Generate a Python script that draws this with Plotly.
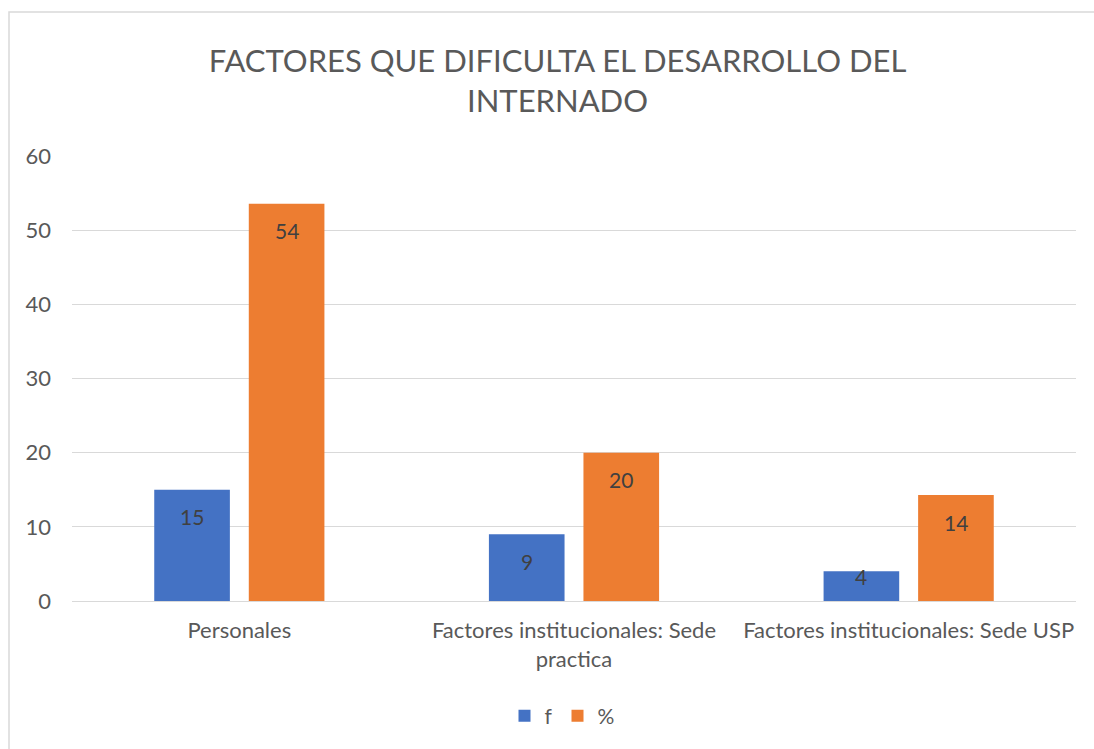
import plotly.graph_objects as go

categories = ["Personales", "Factores institucionales: Sede<br>practica", "Factores institucionales: Sede USP"]
f_values = [15, 9, 4]
pct_values = [53.57, 20, 14.29]
series_names = ["f", "%"]
colors = ["#4472C4", "#ED7D31"]
title_text = "FACTORES QUE DIFICULTA EL DESARROLLO DEL<br>INTERNADO"

FONT = "Lato, Open Sans, sans-serif"
W, H = 1094, 749
ML, MR, MT, MB = 72, 18, 156, 148
YMAX = 60
BARGAP, GROUPGAP = 0.435, 0.2

fig = go.Figure()
for name, vals, col in zip(series_names, [f_values, pct_values], colors):
    fig.add_trace(go.Bar(
        x=categories, y=vals, name=name, marker_color=col,
        marker_line_width=0, hoverinfo="x+y+name",
    ))

# data labels ("inside end" style), placed at each bar's value
plot_w = W - ML - MR
plot_h = H - MT - MB
slot = plot_w / len(categories) * (1 - BARGAP) / 2
px_per_unit = plot_h / YMAX
annotations = []
for i, vals in enumerate([f_values, pct_values]):
    xs = (i - 0.5) * slot
    for c, v in zip(categories, vals):
        bar_px = v * px_per_unit
        annotations.append(dict(
            x=c, y=v, xref="x", yref="y", text=f"{v:.0f}", showarrow=False,
            xshift=xs, yshift=-min(27, bar_px - 24), yanchor="middle",
            font=dict(size=21, color="#404040", family=FONT),
        ))

fig.update_layout(
    width=W, height=H,
    margin=dict(l=ML, r=MR, t=MT, b=MB),
    paper_bgcolor="white", plot_bgcolor="white",
    barmode="group", bargap=BARGAP, bargroupgap=GROUPGAP,
    title=dict(text=title_text, x=0.5096, xref="container", xanchor="center",
               y=1 - 72 / H, yref="container", yanchor="middle",
               font=dict(size=31, color="#595959", family=FONT)),
    font=dict(family=FONT, color="#595959"),
    legend=dict(orientation="h", x=(562 - ML) / plot_w, xanchor="center",
                y=(601 - 716) / plot_h, yanchor="middle", itemwidth=30,
                font=dict(size=21, color="#595959"), traceorder="normal"),
    xaxis=dict(showgrid=False, showline=False, ticks="", tickfont=dict(size=22, color="#595959"),
               ticklabelstandoff=14, automargin=False),
    yaxis=dict(range=[0, YMAX], dtick=10, showgrid=True, gridcolor="#D9D9D9", gridwidth=1,
               zeroline=True, zerolinecolor="#D9D9D9", zerolinewidth=1, showline=False,
               ticks="", tickfont=dict(size=22, color="#595959"), ticklabelstandoff=20,
               automargin=False),
    annotations=annotations,
    shapes=[dict(type="rect", xref="paper", yref="paper",
                 x0=(9 - ML) / plot_w, x1=(1110 - ML) / plot_w,
                 y0=(601 - 760) / plot_h, y1=(601 - 12) / plot_h,
                 line=dict(color="#D9D9D9", width=1.5), fillcolor="rgba(0,0,0,0)", layer="below")],
)

fig.write_html("out.html", config={"displayModeBar": False},
               post_script="document.body.style.margin='0px';")
